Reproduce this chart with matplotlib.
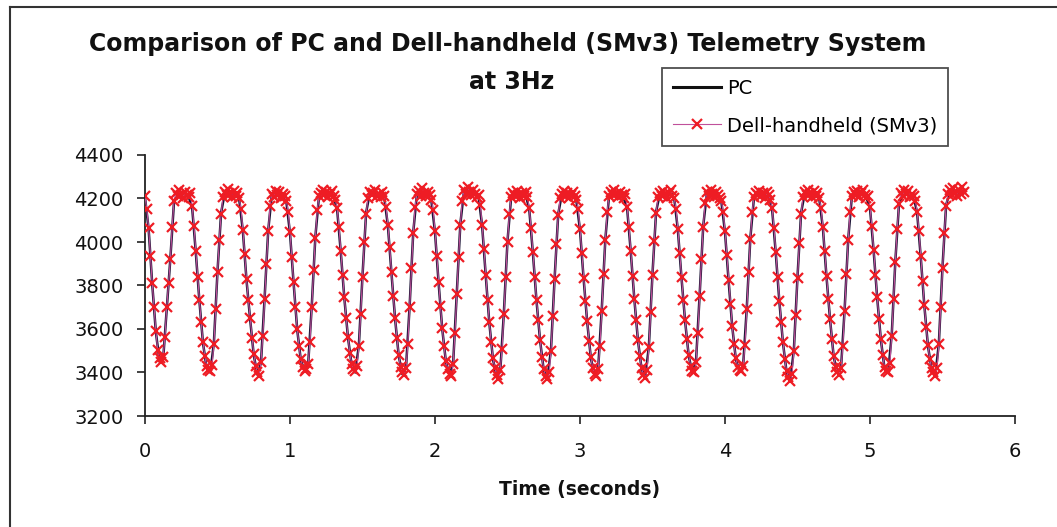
import numpy as np
import matplotlib
matplotlib.use("Agg")
import matplotlib.pyplot as plt
from matplotlib.lines import Line2D

# Dell-handheld (SMv3) samples, mV, one sample every dell_dt seconds
dell_dt = 0.0125
dell_mv = [
    4210, 4150, 4065, 3935, 3810, 3700, 3590, 3505, 3465,
    3450, 3470, 3565, 3700, 3810, 3920, 4070, 4190, 4225, 4210, 4240, 4215, 4200, 4230, 4215, 4205, 4225, 4165, 4075, 3960, 3840, 3735, 3630, 3540, 3475, 3430, 3410,
    3405, 3435, 3530, 3690, 3860, 4010, 4130, 4205, 4230, 4215, 4245, 4220, 4205, 4235, 4210, 4225, 4200, 4150, 4055, 3945, 3830, 3735, 3650, 3560, 3485, 3430, 3400,
    3385, 3450, 3570, 3740, 3900, 4050, 4165, 4220, 4205, 4235, 4215, 4230, 4200, 4220, 4210, 4190, 4140, 4045, 3930, 3815, 3700, 3600, 3520, 3460, 3425, 3405,
    3415, 3440, 3540, 3700, 3870, 4020, 4145, 4210, 4225, 4240, 4215, 4230, 4205, 4220, 4235, 4210, 4195, 4155, 4070, 3960, 3850, 3745, 3650, 3565, 3490, 3440, 3415,
    3405, 3430, 3520, 3670, 3840, 4000, 4130, 4200, 4230, 4215, 4225, 4240, 4210, 4220, 4205, 4230, 4210, 4160, 4080, 3975, 3860, 3750, 3650, 3560, 3480, 3425, 3400,
    3390, 3420, 3530, 3700, 3880, 4040, 4160, 4220, 4235, 4210, 4250, 4225, 4210, 4230, 4215, 4195, 4145, 4050, 3935, 3815, 3705, 3605, 3520, 3455, 3415, 3395,
    3385, 3440, 3580, 3760, 3930, 4080, 4190, 4240, 4220, 4255, 4230, 4215, 4240, 4220, 4205, 4215, 4170, 4080, 3970, 3850, 3735, 3630, 3540, 3465, 3420, 3390,
    3370, 3410, 3510, 3670, 3840, 4000, 4130, 4205, 4225, 4210, 4235, 4215, 4200, 4225, 4210, 4230, 4205, 4155, 4065, 3955, 3840, 3735, 3640, 3550, 3470, 3415, 3385,
    3370, 3400, 3500, 3660, 3830, 3990, 4125, 4200, 4220, 4235, 4210, 4225, 4200, 4215, 4230, 4210, 4195, 4150, 4060, 3950, 3835, 3730, 3635, 3545, 3470, 3420, 3395,
    3385, 3415, 3520, 3685, 3855, 4010, 4140, 4210, 4230, 4215, 4240, 4220, 4205, 4230, 4215, 4200, 4220, 4160, 4070, 3960, 3845, 3740, 3640, 3550, 3475, 3420, 3390,
    3375, 3410, 3515, 3680, 3850, 4005, 4135, 4205, 4225, 4210, 4235, 4220, 4200, 4225, 4240, 4210, 4200, 4150, 4060, 3950, 3840, 3735, 3640, 3555, 3480, 3430, 3405,
    3400, 3450, 3580, 3750, 3920, 4070, 4180, 4230, 4210, 4240, 4220, 4205, 4230, 4215, 4200, 4190, 4140, 4050, 3940, 3825, 3715, 3615, 3530, 3465, 3425, 3410,
    3405, 3430, 3525, 3690, 3860, 4015, 4140, 4205, 4225, 4215, 4235, 4210, 4225, 4200, 4230, 4215, 4195, 4155, 4065, 3955, 3840, 3730, 3630, 3540, 3460, 3405, 3380,
    3360, 3395, 3500, 3665, 3835, 3995, 4130, 4205, 4230, 4215, 4240, 4220, 4205, 4235, 4210, 4225, 4200, 4155, 4070, 3960, 3845, 3740, 3645, 3555, 3475, 3425, 3400,
    3390, 3420, 3520, 3685, 3855, 4010, 4140, 4210, 4230, 4215, 4235, 4205, 4225, 4240, 4215, 4200, 4210, 4160, 4075, 3965, 3850, 3745, 3645, 3555, 3480, 3425, 3405,
    3400, 3445, 3570, 3740, 3910, 4060, 4175, 4225, 4210, 4240, 4220, 4235, 4205, 4220, 4210, 4190, 4140, 4050, 3935, 3820, 3710, 3610, 3525, 3460, 3420, 3400,
    3385, 3420, 3530, 3700, 3880, 4040, 4165, 4220, 4240, 4215, 4250, 4225, 4210, 4240, 4220, 4255, 4230,
]

# PC samples, mV, one sample every pc_dt seconds
pc_dt = 0.025
pc_mv = [
    4205, 4060, 3805, 3585, 3455, 3460, 3690, 3925, 4185, 4215,
    4220, 4225, 4210, 4160, 3955, 3730, 3535, 3420, 3400, 3535,
    3865, 4135, 4225, 4230, 4215, 4220, 4195, 4050, 3825, 3645,
    3480, 3390, 3445, 3745, 4055, 4220, 4225, 4220, 4215, 4185,
    4040, 3810, 3595, 3455, 3410, 3435, 3705, 4025, 4210, 4230,
    4225, 4220, 4210, 4150, 3955, 3740, 3560, 3435, 3400, 3525,
    3845, 4135, 4225, 4225, 4215, 4215, 4205, 4075, 3855, 3645,
    3475, 3392, 3420, 3705, 4045, 4220, 4225, 4225, 4225, 4190,
    4045, 3810, 3600, 3450, 3388, 3440, 3765, 4085, 4235, 4240,
    4220, 4220, 4210, 4075, 3845, 3625, 3460, 3378, 3405, 3675,
    4005, 4205, 4215, 4215, 4220, 4220, 4150, 3950, 3730, 3545,
    3410, 3372, 3505, 3835, 4130, 4220, 4215, 4210, 4220, 4190,
    4055, 3830, 3630, 3465, 3388, 3415, 3690, 4015, 4210, 4225,
    4220, 4225, 4205, 4155, 3955, 3735, 3545, 3415, 3378, 3520,
    3855, 4140, 4220, 4225, 4210, 4230, 4200, 4055, 3835, 3635,
    3475, 3398, 3450, 3755, 4075, 4225, 4230, 4210, 4215, 4185,
    4045, 3820, 3610, 3460, 3405, 3430, 3695, 4020, 4205, 4220,
    4215, 4210, 4215, 4150, 3950, 3725, 3535, 3400, 3362, 3505,
    3840, 4135, 4225, 4230, 4210, 4215, 4200, 4065, 3840, 3640,
    3470, 3398, 3418, 3690, 4015, 4210, 4220, 4215, 4230, 4205,
    4155, 3960, 3740, 3550, 3420, 3398, 3575, 3915, 4175, 4215,
    4225, 4210, 4210, 4135, 3930, 3705, 3520, 3415, 3383, 3535,
    3885, 4170, 4230, 4235, 4215, 4225, 4230,
]

x_ticks = [0, 1, 2, 3, 4, 5, 6]
y_ticks = [3200, 3400, 3600, 3800, 4000, 4200, 4400]

dell_t = np.arange(len(dell_mv)) * dell_dt
pc_t = np.arange(len(pc_mv)) * pc_dt

W, H = 1057, 527
fig = plt.figure(figsize=(W / 100, H / 100), dpi=100)
fig.patch.set_facecolor("white")

# outer chart border, only top and left edges are inside the picture
bx, by = 10 / W, 1 - 7 / H
fig.add_artist(Line2D([bx, 1.1], [by, by], transform=fig.transFigure, color="#333333", linewidth=1.5))
fig.add_artist(Line2D([bx, bx], [-0.1, by], transform=fig.transFigure, color="#333333", linewidth=1.5))

ax = fig.add_axes([145 / W, 1 - 416 / H, 870 / W, 261 / H])

pc_line, = ax.plot(pc_t, pc_mv, color="#1c1436", linewidth=1.8, label="PC", zorder=2)
dell_line, = ax.plot(dell_t, dell_mv, color="#c0509a", linewidth=0.8, marker="x",
                     markersize=7, markeredgewidth=1.6, markeredgecolor="#ee1c24",
                     label="Dell-handheld (SMv3)", zorder=3)

ax.set_xlim(0, 6)
ax.set_ylim(3200, 4400)
ax.set_xticks(x_ticks)
ax.set_yticks(y_ticks)
for s in ["top", "right"]:
    ax.spines[s].set_visible(False)
for s in ["left", "bottom"]:
    ax.spines[s].set_color("#222222")
    ax.spines[s].set_linewidth(1.3)
ax.tick_params(axis="both", direction="out", length=5.5, width=1.2, color="#222222",
               labelsize=14, labelcolor="#111111")
ax.tick_params(axis="x", pad=13)
ax.tick_params(axis="y", pad=10)

ax.set_xlabel("Time (seconds)", fontsize=13.5, fontweight="bold", color="#111111")
ax.xaxis.set_label_coords(0.5, (416 - 490) / 261)
ax.xaxis.label.set_va("center")

fig.text(508 / W, 1 - 44 / H, "Comparison of PC and Dell-handheld (SMv3) Telemetry System",
         ha="center", va="center", fontsize=17, fontweight="bold", color="#111111")
fig.text(512 / W, 1 - 82 / H, "at 3Hz", ha="center", va="center",
         fontsize=17, fontweight="bold", color="#111111")

leg = fig.legend(handles=[pc_line, dell_line], loc="upper left",
                 bbox_to_anchor=(662 / W, 1 - 68 / H), bbox_transform=fig.transFigure,
                 fontsize=14, frameon=True, fancybox=False, shadow=False,
                 borderaxespad=0, borderpad=0.55, labelspacing=0.95,
                 handlelength=2.5, handletextpad=0.3)
leg.get_frame().set_edgecolor("#222222")
leg.get_frame().set_linewidth(1.3)
leg.get_lines()[0].set_color("#111111")
leg.get_lines()[0].set_linewidth(2.2)

fig.savefig("out.png", dpi=100)
